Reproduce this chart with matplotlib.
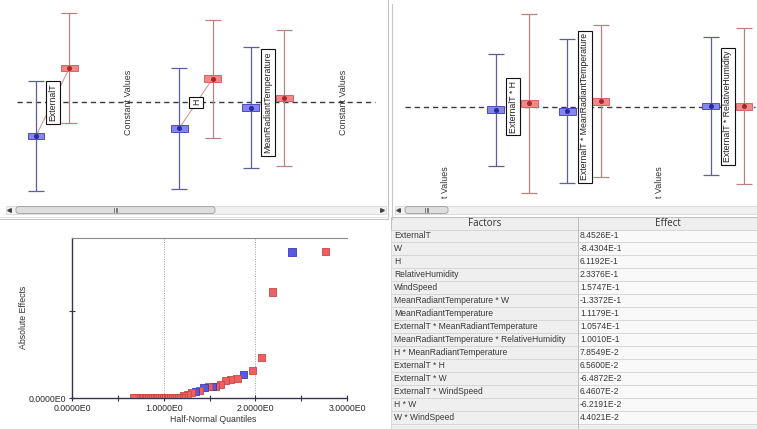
import math
import numpy as np
import matplotlib
matplotlib.use("Agg")
import matplotlib.pyplot as plt
from matplotlib.patches import Rectangle, FancyBboxPatch
from matplotlib.ticker import FixedLocator, FuncFormatter

W, H = 757, 429
plt.rcParams['font.family'] = ['Liberation Sans', 'DejaVu Sans']

# ---------------- effects table (also plotted on the half-normal chart) ----------------
factors = [
    "ExternalT", "W", "H", "RelativeHumidity", "WindSpeed",
    "MeanRadiantTemperature * W", "MeanRadiantTemperature",
    "ExternalT * MeanRadiantTemperature",
    "MeanRadiantTemperature * RelativeHumidity",
    "H * MeanRadiantTemperature", "ExternalT * H", "ExternalT * W",
    "ExternalT * WindSpeed", "H * W", "W * WindSpeed",
]
effects = [0.84526, -0.84304, 0.61192, 0.23376, 0.15747, -0.13372, 0.11179,
           0.10574, 0.10010, 0.078549, 0.065600, -0.064872, 0.064607,
           -0.062191, 0.044021]
effect_quantiles = [2.77, 2.40, 2.19, 2.07, 1.97, 1.87, 1.80, 1.73, 1.67,
                    1.62, 1.57, 1.53, 1.49, 1.44, 1.39]

# smaller effects that only appear on the half-normal chart
small_effects = [-0.040, 0.032, 0.022, 0.012, 0.0040, 0.0036, 0.0033, 0.0031,
                 0.0029, 0.0027, 0.0025, 0.0023, 0.0021, 0.0020, 0.0018,
                 0.0017, 0.0015, 0.0014, 0.0013, 0.0011, 0.0010, 0.0009,
                 0.0008, 0.0007, 0.0006, 0.0005, 0.0004, 0.0003, 0.0002,
                 0.0001]
small_quantiles = [1.35, 1.30, 1.26, 1.22, 1.19, 1.16, 1.14, 1.11, 1.09,
                   1.06, 1.04, 1.02, 1.00, 0.98, 0.96, 0.94, 0.92, 0.90,
                   0.88, 0.86, 0.84, 0.82, 0.80, 0.78, 0.76, 0.74, 0.72,
                   0.70, 0.69, 0.67]

# ---------------- main-effect / interaction panels (deviation from grand mean) ----------------
left_labels = ["ExternalT", None, "H", "MeanRadiantTemperature", None]
left_low = [-0.416, np.nan, -0.321, -0.067, np.nan]
left_low_err = [0.680, np.nan, 0.747, 0.744, np.nan]
left_high = [0.423, np.nan, 0.291, 0.053, np.nan]
left_high_err = [0.677, np.nan, 0.730, 0.836, np.nan]

right_labels = [None, "ExternalT * H", "ExternalT * MeanRadiantTemperature", None,
                "ExternalT * RelativeHumidity"]
right_low = [np.nan, -0.037, -0.057, np.nan, 0.009]
right_low_err = [np.nan, 0.690, 0.889, np.nan, 0.852]
right_high = [np.nan, 0.042, 0.067, np.nan, 0.005]
right_high_err = [np.nan, 1.103, 0.941, np.nan, 0.963]

BLUE_BAR, BLUE_BOX, BLUE_EDGE, BLUE_DOT = "#5e5e9e", "#8585f2", "#4c4cc0", "#2a2aa0"
RED_BAR, RED_BOX, RED_EDGE, RED_DOT = "#b98383", "#f08888", "#d46464", "#a42a2a"

fig = plt.figure(figsize=(W / 100, H / 100), dpi=100)
fig.patch.set_facecolor("white")


def px_axes(x0, y0, x1, y1, **kw):
    return fig.add_axes([x0 / W, 1 - y1 / H, (x1 - x0) / W, (y1 - y0) / H], **kw)


def sci(v):
    if v == 0:
        return "0.0000E0"
    e = int(math.floor(math.log10(abs(v))))
    return f"{v / 10 ** e:.4f}E{e}"


# full-figure layer in pixel units for window chrome and the table
bg = px_axes(0, 0, W, H)
bg.set_xlim(0, W)
bg.set_ylim(H, 0)
bg.axis("off")


def effect_panel(ax, labels, low, low_err, high, high_err, const_text, const_y, dash_end):
    slots = np.arange(len(labels))
    ax.plot([-0.27, dash_end], [0, 0], color="#3a3a3a", lw=1.0,
            dashes=(3.8, 2.8), zorder=1)
    off, bw, bh = 0.465, 0.235, 0.085
    for s, name, lo, le, hi, he in zip(slots, labels, low, low_err, high, high_err):
        if name is None:
            ax.text(s + 0.29, const_y, const_text, rotation=90, ha="center",
                    va="center", fontsize=6.4, color="#333333", zorder=2)
            continue
        ax.plot([s, s + off], [lo, hi], color="#d49a9a", lw=0.8, zorder=1.5)
        for x, m, e, bar, box, edge, dot in (
                (s, lo, le, BLUE_BAR, BLUE_BOX, BLUE_EDGE, BLUE_DOT),
                (s + off, hi, he, RED_BAR, RED_BOX, RED_EDGE, RED_DOT)):
            ax.errorbar(x, m, yerr=e, fmt="none", ecolor=bar, elinewidth=0.9,
                        capsize=5.8, capthick=0.9, zorder=2)
            ax.add_patch(Rectangle((x - bw / 2, m - bh / 2), bw, bh, fc=box,
                                   ec=edge, lw=0.7, zorder=3))
            ax.plot(x, m, "o", ms=2.6, color=dot, zorder=4)
        ax.text(s + 0.24, 0, name, rotation=90, ha="center", va="center",
                fontsize=6.3, color="#222222", zorder=5,
                bbox=dict(boxstyle="square,pad=0.28", fc="white", ec="#111111", lw=0.8))


ax_l = px_axes(0, 0, 385, 203)
ax_l.set_xlim(-0.503, 4.874)
ax_l.set_ylim(-1.243, 1.263)
ax_l.axis("off")
effect_panel(ax_l, left_labels, left_low, left_low_err, left_high, left_high_err,
             "Constant Values", 0.0, 4.735)

ax_r = px_axes(392, 0, W, 203)
ax_r.set_xlim(-0.451, 4.647)
ax_r.set_ylim(-1.189, 1.317)
ax_r.axis("off")
effect_panel(ax_r, right_labels, right_low, right_low_err, right_high, right_high_err,
             "t Values", -0.93, 4.62)

# ---------------- half-normal plot ----------------
ax_h = px_axes(72, 238, 347, 398)
q_all = effect_quantiles + small_quantiles
e_all = effects + small_effects
face = ["#ee6060" if v > 0 else "#5858e0" for v in e_all]
edge = ["#c84646" if v > 0 else "#3a3ab0" for v in e_all]
ax_h.scatter(q_all, np.abs(e_all), marker="s", s=26, c=face, edgecolors=edge,
             linewidths=0.6, zorder=3)
ax_h.set_xlim(0, 3)
ax_h.set_ylim(0, 0.924)
ax_h.xaxis.set_major_locator(FixedLocator([0, 1, 2, 3]))
ax_h.xaxis.set_minor_locator(FixedLocator([0.5, 1.5, 2.5]))
ax_h.yaxis.set_major_locator(FixedLocator([0]))
ax_h.yaxis.set_minor_locator(FixedLocator([0.5]))
fmt = FuncFormatter(lambda v, p: sci(v))
ax_h.xaxis.set_major_formatter(fmt)
ax_h.yaxis.set_major_formatter(fmt)
ax_h.tick_params(which="both", direction="inout", length=4, width=0.8,
                 color="#2e2e4e", labelsize=6.3, labelcolor="#2a2a2a", pad=2)
ax_h.grid(axis="x", which="major", ls=(0, (1, 1.5)), color="#9a9a9a", lw=0.7)
for side in ("left", "bottom"):
    ax_h.spines[side].set_color("#34344e")
    ax_h.spines[side].set_linewidth(1.0)
ax_h.spines["top"].set_color("#8a8a8a")
ax_h.spines["top"].set_linewidth(0.8)
ax_h.spines["right"].set_visible(False)
bg.text(24, 317, "Absolute Effects", rotation=90, ha="center", va="center",
        fontsize=6.3, color="#333333")
bg.text(213, 419, "Half-Normal Quantiles", ha="center", va="center",
        fontsize=6.3, color="#333333")

# ---------------- window chrome ----------------
LINE = "#c6c6c6"
bg.plot([387.5, 387.5], [0, 219], color=LINE, lw=0.8)
bg.plot([391.5, 391.5], [4, 219], color=LINE, lw=0.8)
bg.plot([0, 387.5], [218.5, 218.5], color=LINE, lw=0.8)
bg.plot([0, 387.5], [216.5, 216.5], color="#e2e2e2", lw=0.6)


def scrollbar(x0, x1, t0, t1, y0=206.0, y1=214.0, right_arrow=True):
    bg.add_patch(Rectangle((x0, y0), x1 - x0, y1 - y0, fc="#f1f1f1", ec="#dadada", lw=0.6))
    bg.add_patch(FancyBboxPatch((t0, y0 + 0.6), t1 - t0, y1 - y0 - 1.2,
                                boxstyle="round,pad=0,rounding_size=2.5",
                                fc="#dedede", ec="#9c9c9c", lw=0.6))
    c = (t0 + t1) / 2
    for dx in (-1.5, 0, 1.5):
        bg.plot([c + dx, c + dx], [208.3, 211.7], color="#6a6a6a", lw=0.6)
    bg.plot(x0 + 3, (y0 + y1) / 2, marker="<", ms=2.6, color="#444444")
    if right_arrow:
        bg.plot(x1 - 4, (y0 + y1) / 2, marker=">", ms=2.6, color="#444444")


scrollbar(6, 386, 16, 215)
scrollbar(395, W + 2, 405, 448, right_arrow=False)

# ---------------- effects table ----------------
TX0, TX1, TXC = 391, W, 578
HEAD0, HEAD1 = 216.5, 229.5
ROW_H = 12.95
bg.add_patch(Rectangle((TX0, HEAD0), TX1 - TX0, HEAD1 - HEAD0, fc="#eeeeee",
                       ec="#bdbdbd", lw=0.7))
bg.plot([TXC, TXC], [HEAD0, H], color="#bdbdbd", lw=0.7)
bg.text((TX0 + TXC) / 2, (HEAD0 + HEAD1) / 2 + 0.5, "Factors", ha="center",
        va="center", fontsize=7, family=["Open Sans", "DejaVu Sans"], color="#333333")
bg.text((TXC + TX1) / 2, (HEAD0 + HEAD1) / 2 + 0.5, "Effect", ha="center",
        va="center", fontsize=7, family=["Open Sans", "DejaVu Sans"], color="#333333")
for i, (name, val) in enumerate(zip(factors, effects)):
    y0 = HEAD1 + i * ROW_H
    bg.add_patch(Rectangle((TX0, y0), TXC - TX0, ROW_H, fc="#efefef", ec="#d4d4d4", lw=0.6))
    bg.add_patch(Rectangle((TXC, y0), TX1 - TXC, ROW_H, fc="#f9f9f9", ec="#d4d4d4", lw=0.6))
    bg.text(TX0 + 3, y0 + ROW_H / 2, name, ha="left", va="center", fontsize=6.15,
            color="#383838")
    bg.text(TXC + 2, y0 + ROW_H / 2, sci(val), ha="left", va="center", fontsize=6.15,
            color="#383838")
y_end = HEAD1 + len(factors) * ROW_H
bg.add_patch(Rectangle((TX0, y_end), TX1 - TX0, H - y_end, fc="#efefef", ec="#d4d4d4", lw=0.6))

fig.savefig("out.png", dpi=100)
